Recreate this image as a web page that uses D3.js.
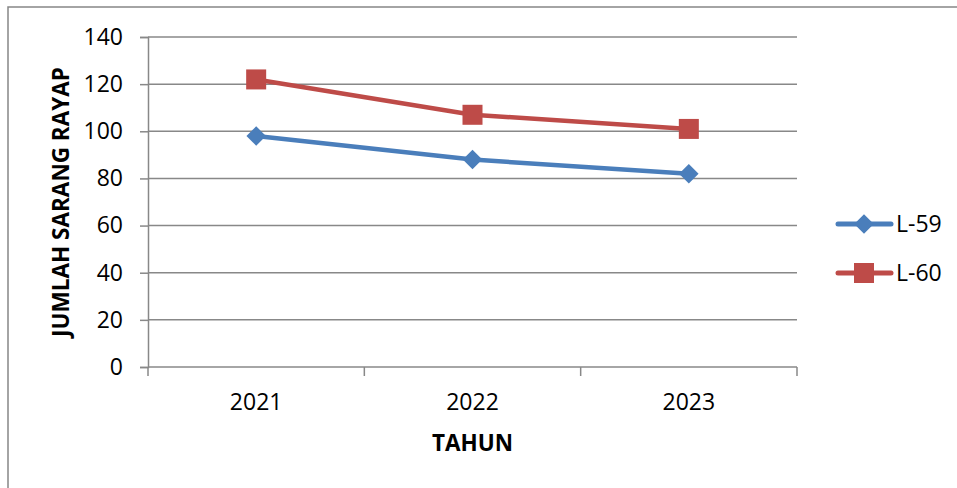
<!DOCTYPE html>
<html>
<head>
<meta charset="utf-8">
<script src="https://d3js.org/d3.v7.min.js"></script>
<style>
  body { margin: 0; background: #fff; }
  svg text { font-family: "Open Sans", "Noto Sans", sans-serif; fill: #000; }
</style>
</head>
<body>
<div id="chart"></div>
<script>
// data
var years = ["2021", "2022", "2023"];
var seriesNames = ["L-59", "L-60"];
var l59 = [98, 88, 82];
var l60 = [122, 107, 101];
var yTicks = [0, 20, 40, 60, 80, 100, 120, 140];

var W = 957, H = 488;
var plotL = 148, plotR = 797, plotT = 37, plotB = 367;

var svg = d3.select("#chart").append("svg")
    .attr("width", W).attr("height", H);

// outer chart border (runs off the right and bottom)
svg.append("rect")
    .attr("x", 8).attr("y", 7)
    .attr("width", 1000).attr("height", 600)
    .attr("fill", "none").attr("stroke", "#868686").attr("stroke-width", 1.5);

var x = d3.scaleBand().domain(years).range([plotL, plotR]);
var y = d3.scaleLinear().domain([0, 140]).range([plotB, plotT]);

// horizontal gridlines
svg.append("g").selectAll("line")
    .data(yTicks.filter(function(d) { return d > 0; }))
    .enter().append("line")
    .attr("x1", plotL).attr("x2", plotR)
    .attr("y1", function(d) { return y(d); })
    .attr("y2", function(d) { return y(d); })
    .attr("stroke", "#888").attr("stroke-width", 1.5);

// y axis
var yAxis = svg.append("g")
    .attr("transform", "translate(" + plotL + ",0)")
    .call(d3.axisLeft(y).tickValues(yTicks).tickSize(8).tickPadding(17));
yAxis.select(".domain").attr("stroke", "#888").attr("stroke-width", 1.5);
yAxis.selectAll(".tick line").attr("stroke", "#888").attr("stroke-width", 1.5);
yAxis.selectAll("text").style("font-size", "23px").attr("fill", "#000");

// x axis: ticks sit between categories
var xg = svg.append("g").attr("transform", "translate(0," + plotB + ")");
xg.append("line")
    .attr("x1", plotL).attr("x2", plotR)
    .attr("stroke", "#888").attr("stroke-width", 1.5);
var edges = years.map(function(d) { return x(d); }).concat([plotR]);
xg.selectAll(".tk").data(edges).enter().append("line")
    .attr("x1", function(d) { return d; }).attr("x2", function(d) { return d; })
    .attr("y1", 0).attr("y2", 9)
    .attr("stroke", "#888").attr("stroke-width", 1.5);
xg.selectAll(".lab").data(years).enter().append("text")
    .attr("x", function(d) { return x(d) + x.bandwidth() / 2; })
    .attr("y", 43)
    .attr("text-anchor", "middle")
    .style("font-size", "23px")
    .text(function(d) { return d; });

// axis titles
svg.append("text")
    .attr("transform", "translate(69," + (plotT + plotB) / 2 + ") rotate(-90)")
    .attr("text-anchor", "middle")
    .style("font-size", "22.5px").style("font-weight", "bold")
    .text("JUMLAH SARANG RAYAP");
svg.append("text")
    .attr("x", (plotL + plotR) / 2).attr("y", 451)
    .attr("text-anchor", "middle")
    .style("font-size", "22.5px").style("font-weight", "bold")
    .text("TAHUN");

var colors = ["#4a7ebb", "#be4b48"];
var allSeries = [l59, l60];
var cx = function(i) { return x(years[i]) + x.bandwidth() / 2; };

var line = d3.line()
    .x(function(d, i) { return cx(i); })
    .y(function(d) { return y(d); });

function marker(g, k, px, py) {
  if (k === 0) {
    g.append("path")
      .attr("d", d3.symbol().type(d3.symbolSquare).size(190)())
      .attr("transform", "translate(" + px + "," + py + ") rotate(45)")
      .attr("fill", colors[k]);
  } else {
    g.append("rect")
      .attr("x", px - 10).attr("y", py - 10)
      .attr("width", 20).attr("height", 20)
      .attr("fill", colors[k]);
  }
}

allSeries.forEach(function(vals, k) {
  var g = svg.append("g");
  g.append("path")
    .attr("d", line(vals))
    .attr("fill", "none")
    .attr("stroke", colors[k]).attr("stroke-width", 4.5)
    .attr("stroke-linejoin", "round");
  vals.forEach(function(v, i) { marker(g, k, cx(i), y(v)); });
});

// legend
var legY = [224, 273];
seriesNames.forEach(function(name, k) {
  var g = svg.append("g");
  g.append("line")
    .attr("x1", 838).attr("x2", 891)
    .attr("y1", legY[k]).attr("y2", legY[k])
    .attr("stroke", colors[k]).attr("stroke-width", 5)
    .attr("stroke-linecap", "round");
  marker(g, k, 864, legY[k]);
  g.append("text")
    .attr("x", 896).attr("y", legY[k])
    .attr("dy", "0.36em")
    .style("font-size", "23px")
    .text(name);
});
</script>
</body>
</html>
